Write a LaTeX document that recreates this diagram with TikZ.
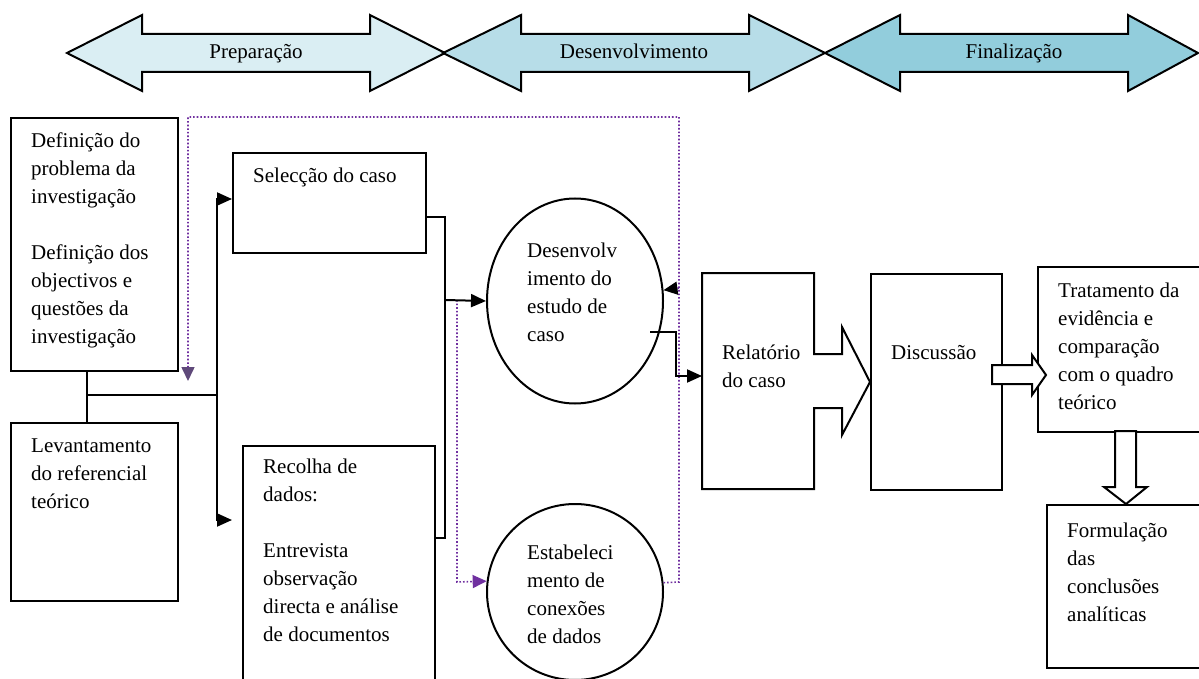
\documentclass[tikz,border=0pt]{standalone}
\usepackage{fontspec}
\setmainfont{Liberation Serif}
\usetikzlibrary{shapes.geometric,arrows.meta}
\definecolor{prepc}{HTML}{DAEEF3}
\definecolor{desc}{HTML}{B7DDE8}
\definecolor{finc}{HTML}{92CDDC}
\definecolor{purp}{HTML}{7030A0}
\definecolor{purpdark}{HTML}{5F497A}
\tikzset{
  box/.style={draw, line width=2pt, rectangle, inner sep=0pt, anchor=north west},
  oval/.style={draw, line width=2pt, ellipse, inner sep=0pt},
  txt/.style={anchor=base west, align=left, inner sep=0pt, font=\fontsize{21}{28}\selectfont},
  lbl/.style={anchor=base, inner sep=0pt, font=\fontsize{21}{28}\selectfont},
  band/.style={draw, line width=2pt, line join=miter},
  conn/.style={draw, line width=2pt},
  arr/.style={conn, -{Triangle[length=15pt,width=13pt]}},
  dots/.style={draw=purp, line width=1.6pt, dotted},
  blockarrow/.style={draw, line width=2pt, fill=white, line join=miter}
}
\begin{document}
\begin{tikzpicture}[x=1pt,y=-1pt]
\useasboundingbox (0,0) rectangle (1199,679);
% phase arrows
\filldraw[band, fill=prepc] (67,53) -- (142,15) -- (142,34) -- (370,34) -- (370,15) -- (445,53) -- (370,91) -- (370,72) -- (142,72) -- (142,91) -- cycle;
\filldraw[band, fill=desc] (443,53) -- (521,15) -- (521,34) -- (749,34) -- (749,15) -- (825,53) -- (749,91) -- (749,72) -- (521,72) -- (521,91) -- cycle;
\filldraw[band, fill=finc] (825,53) -- (900,15) -- (900,34) -- (1128,34) -- (1128,15) -- (1198,53) -- (1128,91) -- (1128,72) -- (900,72) -- (900,91) -- cycle;
\node[lbl] (prep) at (256,59) {Preparação};
\node[lbl] (dese) at (634,59) {Desenvolvimento};
\node[lbl] (fina) at (1014,59) {Finalização};

% boxes
\node[box, minimum width=167pt, minimum height=253pt] (A) at (10,117) {};
\node[txt] (Atxt) at (31,343) {Definição do\\problema da\\investigação\\[28pt]Definição dos\\objectivos e\\questões da\\investigação};
\node[box, minimum width=167pt, minimum height=178pt] (L) at (10,422) {};
\node[txt] (Ltxt) at (31,508) {Levantamento\\do referencial\\teórico};
\node[box, minimum width=193pt, minimum height=100pt] (S) at (232,152) {};
\node[txt] (Stxt) at (253,183) {Selecção do caso};
\node[box, minimum width=192pt, minimum height=250pt] (R) at (242,445) {};
\node[txt] (Rtxt) at (263,641) {Recolha de\\dados:\\[28pt]Entrevista\\observação\\directa e análise\\de documentos};
\node[oval, minimum width=176pt, minimum height=205pt] (E1) at (575,301) {};
\node[txt] (E1txt) at (527,341) {Desenvolv\\imento do\\estudo de\\caso};
\node[oval, minimum width=176pt, minimum height=176pt] (E2) at (575,592) {};
\node[txt] (E2txt) at (527,643) {Estabeleci\\mento de\\conexões\\de dados};

% relatorio shape
\draw[band] (702,273) -- (814,273) -- (814,354) -- (842,354) -- (842,327) -- (870,382) -- (842,435) -- (842,408) -- (814,408) -- (814,489) -- (702,489) -- cycle;
\coordinate (Rel) at (702,376);
\node[txt] (Reltxt) at (722,387) {Relatório\\do caso};
\node[box, minimum width=131pt, minimum height=216pt] (D) at (870,273) {};
\node[txt] (Dtxt) at (891,359) {Discussão};
\node[box, minimum width=175pt, minimum height=165pt] (T) at (1037,266) {};
\node[txt] (Ttxt) at (1058,409) {Tratamento da\\evidência e\\comparação\\com o quadro\\teórico};
\node[box, minimum width=166pt, minimum height=163pt] (F) at (1046,504) {};
\node[txt] (Ftxt) at (1067,621) {Formulação\\das\\conclusões\\analíticas};

% block arrows
\filldraw[blockarrow] (992,365) -- (1032,365) -- (1032,355) -- (1046,375) -- (1032,395) -- (1032,384) -- (992,384) -- cycle;
\filldraw[blockarrow] (1115,431) -- (1136,431) -- (1136,487) -- (1147,487) -- (1126,504) -- (1104,487) -- (1115,487) -- cycle;

% dotted feedback
\draw[dots, -{Triangle[length=14pt,width=13pt,color=purpdark]}] (E2.6.6) -- (679,582) -- (679,117) -- (188,117) -- (188,381);
\draw[dots, -{Triangle[length=14pt,width=13pt,color=black]}] (679,288) -- (E1.7.3);
\draw[dots, -{Triangle[length=14pt,width=13pt,color=purp]}] (457,300) -- (457,582) -- (E2.173.4);

% solid connectors
\draw[conn] (87,370) -- (87,422);
\draw[conn] (87,395) -- (217,395);
\draw[arr] (217,395) |- (232,199);
\draw[arr] (217,395) |- (232,520);
\draw[conn] (425,217) -| (445,538) -- (434,538);
\draw[arr] (445,300) -- (E1.west);
\draw[arr] (650,332) -| (676,376) -- (Rel);
\end{tikzpicture}
\end{document}
